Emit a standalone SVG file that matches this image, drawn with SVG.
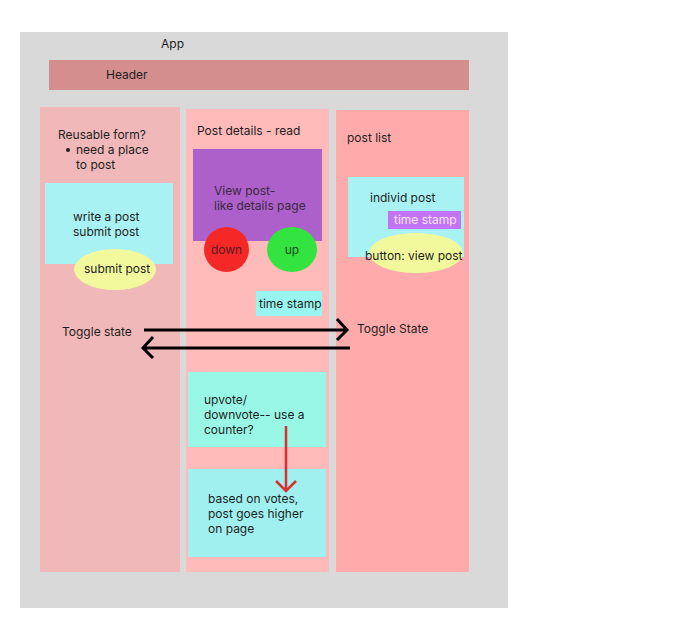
<svg xmlns="http://www.w3.org/2000/svg" width="673" height="631" viewBox="0 0 673 631">
<style>
text{font-family:Inter,"Noto Sans","Liberation Sans",sans-serif;font-size:12px;fill:#1e1e1e}
.blk{stroke:#000;stroke-width:3;fill:none}
.red{stroke:#d93030;stroke-width:2.5;fill:none}
</style>
<rect width="673" height="631" fill="#fff"/>
<g id="app">
<rect x="20" y="32" width="488" height="576" fill="#d9d9d9"/>
<text x="161" y="48">App</text>
</g>
<g id="header">
<rect x="49" y="60" width="420" height="30" fill="#d58e8e"/>
<text x="106" y="79">Header</text>
</g>
<g id="col-form">
<rect x="40" y="107" width="140" height="465" fill="#f0b8b8"/>
<text x="58" y="139">Reusable form?</text>
<circle cx="68" cy="150" r="2" fill="#1e1e1e"/>
<text x="76" y="154">need a place</text>
<text x="76" y="169">to post</text>
</g>
<g id="col-details">
<rect x="186" y="109" width="143" height="463" fill="#ffbaba"/>
<text x="197" y="135">Post details - read</text>
</g>
<g id="col-list">
<rect x="336" y="110" width="133" height="462" fill="#ffabab"/>
<text x="347" y="142">post list</text>
</g>
<g id="write-post">
<rect x="45" y="183" width="128" height="81" fill="#a8f2f4"/>
<text x="73" y="221">write a post</text>
<text x="73" y="236">submit post</text>
</g>
<g id="submit-post">
<ellipse cx="115" cy="269.5" rx="41" ry="20.5" fill="#f2f99d"/>
<text x="84" y="273">submit post</text>
</g>
<g id="view-post">
<rect x="193" y="149" width="129" height="92" fill="#ad5fca"/>
<text x="214" y="195" style="fill:#3a2a40">View post-</text>
<text x="214" y="210" style="fill:#3a2a40">like details page</text>
</g>
<g id="down">
<circle cx="226.5" cy="249.5" r="22.5" fill="#f52828"/>
<text x="226.5" y="253.5" text-anchor="middle" style="fill:#5a1a1a">down</text>
</g>
<g id="up">
<ellipse cx="292" cy="249.5" rx="25" ry="22.5" fill="#33e33f"/>
<text x="292" y="254" text-anchor="middle" style="fill:#1e4a20">up</text>
</g>
<g id="time-stamp-details">
<rect x="256" y="291" width="66" height="25" fill="#99f5f0"/>
<text x="259" y="308">time stamp</text>
</g>
<g id="individ-post">
<rect x="348" y="177" width="116" height="80" fill="#a8f2f4"/>
<text x="370" y="202">individ post</text>
</g>
<g id="time-stamp-list">
<rect x="388" y="211" width="73" height="18" fill="#c374f5"/>
<text x="394" y="224" style="fill:#f4e6ff">time stamp</text>
</g>
<g id="view-button">
<ellipse cx="416" cy="253" rx="47" ry="20" fill="#f2f99d"/>
<text x="365" y="260">button: view post</text>
</g>
<g id="toggle-left">
<text x="62" y="336">Toggle state</text>
</g>
<g id="toggle-right">
<text x="357" y="333">Toggle State</text>
</g>
<g id="upvote">
<rect x="188" y="372" width="138" height="75" fill="#99f7e6"/>
<text x="204" y="404">upvote/</text>
<text x="204" y="419">downvote-- use a</text>
<text x="204" y="434">counter?</text>
</g>
<g id="based-on-votes">
<rect x="188" y="469" width="138" height="88" fill="#a0f0f0"/>
<text x="208" y="503">based on votes,</text>
<text x="208" y="518">post goes higher</text>
<text x="208" y="533">on page</text>
</g>
<g id="connectors">
<path class="blk" d="M144 330H347M337 319L347 330L337 340"/>
<path class="blk" d="M350 348H143M153 337L143 348L153 358"/>
<path class="red" d="M286 426V491M276 481L286 491L296 481"/>
</g>
</svg>
